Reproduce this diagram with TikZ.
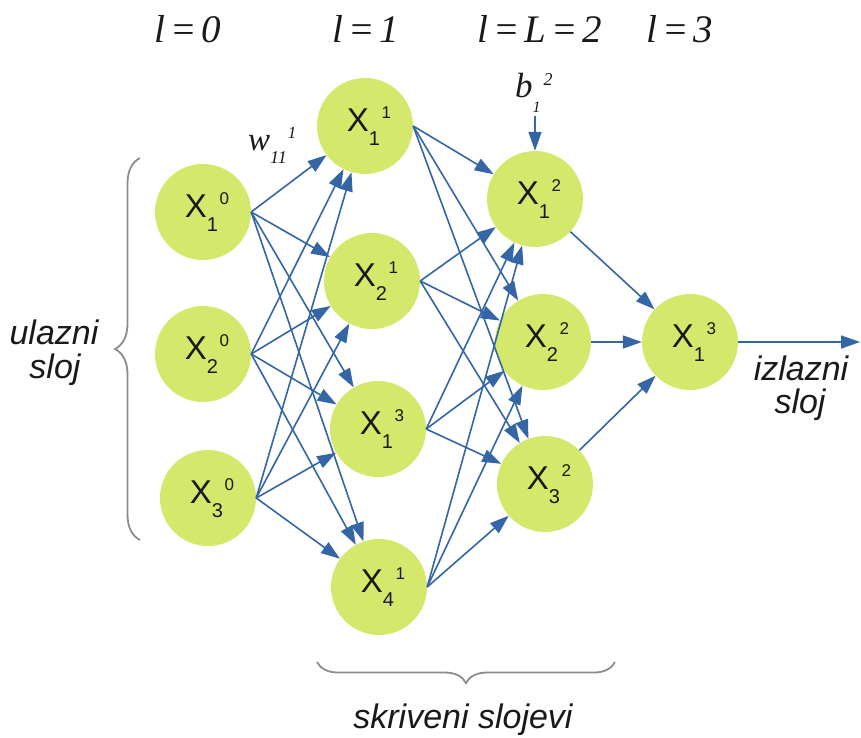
\documentclass[tikz,border=0pt]{standalone}
\usepackage{fontspec}
\setmainfont{Liberation Serif}
\setsansfont{Liberation Sans}
\usetikzlibrary{arrows.meta,decorations.pathreplacing}
\definecolor{nodefill}{RGB}{212,232,107}
\definecolor{edgeblue}{RGB}{52,101,164}
\definecolor{bracegray}{RGB}{140,140,140}
\definecolor{txt}{RGB}{25,25,25}
\newcommand{\xlab}[2]{\kern8pt{\fontsize{33}{33}\selectfont X}\raisebox{-14pt}{\fontsize{20}{20}\selectfont #1}\kern1.5pt\raisebox{13pt}{\fontsize{17}{17}\selectfont #2}}
\begin{document}
\begin{tikzpicture}[x=1pt,y=-1pt,
  neuron/.style={circle,fill=nodefill,minimum size=96pt,inner sep=0pt,font=\sffamily,text=txt},
  conn/.style={draw=edgeblue,line width=1.6pt,-{Triangle[length=19pt,width=13pt]}},
  lbl/.style={font=\sffamily\itshape\fontsize{34}{34}\selectfont,inner sep=0pt,anchor=base,text=txt},
  toplbl/.style={font=\itshape\fontsize{39}{39}\selectfont,inner sep=0pt,anchor=base,text=txt},
  mathlbl/.style={font=\itshape,inner sep=0pt,anchor=base west,text=txt},
  brc/.style={draw=bracegray,line width=1.8pt,decorate}]
\useasboundingbox (0,0) rectangle (861,737);

% neurons
\node[neuron] (i1) at (203,212) {\xlab{1}{0}};
\node[neuron] (i2) at (203,354) {\xlab{2}{0}};
\node[neuron] (i3) at (208,498) {\xlab{3}{0}};
\node[neuron] (h1) at (365,126) {\xlab{1}{1}};
\node[neuron] (h2) at (372,281) {\xlab{2}{1}};
\node[neuron] (h3) at (378,429) {\xlab{1}{3}};
\node[neuron] (h4) at (379,587) {\xlab{4}{1}};
\node[neuron] (g1) at (535,199) {\xlab{1}{2}};
\node[neuron] (g2) at (543,342) {\xlab{2}{2}};
\node[neuron] (g3) at (545,484) {\xlab{3}{2}};
\node[neuron] (o1) at (690,342) {\xlab{1}{3}};
\coordinate (out) at (860,342);

% connections
\foreach \s in {i1,i2,i3} \foreach \t in {h1,h2,h3,h4} \draw[conn] (\s.east) -- (\t);
\foreach \s in {h1,h2,h3,h4} \foreach \t in {g1,g2,g3} \draw[conn] (\s.east) -- (\t);
\foreach \s in {g1,g2,g3} \draw[conn] (\s) -- (o1);
\draw[conn] (o1.east) -- (out);

% weight and bias labels
\node[mathlbl] (w) at (248,150) {{\fontsize{33}{33}\selectfont w}\raisebox{-13pt}{\fontsize{18}{18}\selectfont 11}\kern1pt\raisebox{12pt}{\fontsize{17}{17}\selectfont 1}};
\node[mathlbl] (b) at (515,97) {{\fontsize{35}{35}\selectfont b}\raisebox{-15pt}{\fontsize{16}{16}\selectfont 1}\kern3pt\raisebox{12pt}{\fontsize{18}{18}\selectfont 2}};
\draw[conn,shorten <=4pt] (g1.north |- b.south) -- (g1.north);

% layer labels
\node[toplbl] (l0) at (188,42) {l\kern5pt=\kern5pt0};
\node[toplbl] (l1) at (366,42) {l\kern5pt=\kern5pt1};
\node[toplbl] (l2) at (540,42) {l\kern5pt=\kern5pt L\kern5pt=\kern5pt2};
\node[toplbl] (l3) at (680,42) {l\kern5pt=\kern5pt3};

% side labels
\node[lbl] (ul1) at (54,344) {ulazni};
\node[lbl] (ul2) at (55,378) {sloj};
\node[lbl] (iz1) at (801,380) {izlazni};
\node[lbl] (iz2) at (800,413) {sloj};
\node[lbl] (sk) at (463,728) {skriveni slojevi};

% braces
\draw[brc,decoration={brace,amplitude=25pt}] (140,540) -- (140,158);
\draw[brc,decoration={brace,amplitude=21pt}] (615,662) -- (317,662);
\end{tikzpicture}
\end{document}
